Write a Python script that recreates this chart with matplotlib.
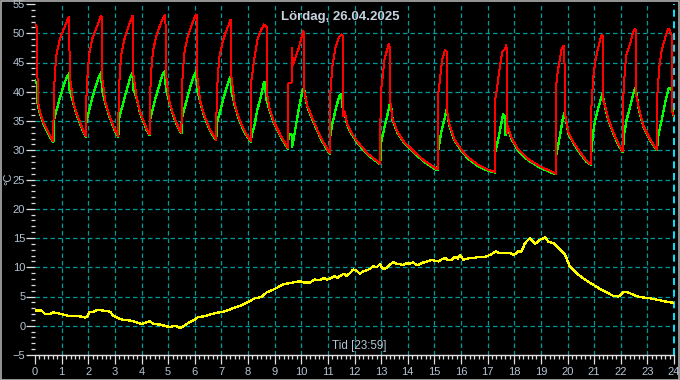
import matplotlib
matplotlib.use("Agg")
import matplotlib.pyplot as plt
from matplotlib.patches import Rectangle

# ---------------- data ----------------
title_text = "Lördag, 26.04.2025"
xlabel_text = "Tid [23:59]"
ylabel_text = "°C"
x_ticks = list(range(0, 25))
y_ticks = list(range(-5, 56, 5))

red_t = [0.00, 0.08, 0.09, 0.10, 0.19, 0.31, 0.44, 0.56, 0.69,
         0.70, 0.75, 0.81, 0.94, 1.06, 1.19, 1.26, 1.29, 1.30, 1.44, 1.57, 1.69, 1.81, 1.92,
         1.93, 1.98, 2.04, 2.16, 2.28, 2.40, 2.47, 2.50, 2.51, 2.64, 2.77, 2.89, 3.01, 3.13,
         3.14, 3.19, 3.25, 3.37, 3.48, 3.59, 3.65, 3.68, 3.69, 3.82, 3.95, 4.07, 4.19, 4.31,
         4.32, 4.37, 4.43, 4.55, 4.67, 4.79, 4.87, 4.90, 4.91, 5.03, 5.15, 5.27, 5.39, 5.50,
         5.51, 5.56, 5.62, 5.74, 5.85, 5.97, 6.04, 6.07, 6.08, 6.20, 6.33, 6.46, 6.58, 6.70, 6.81,
         6.82, 6.87, 6.93, 7.05, 7.16, 7.28, 7.34, 7.37, 7.38, 7.50, 7.63, 7.76, 7.88, 8.00, 8.12,
         8.13, 8.23, 8.35, 8.48, 8.60, 8.66, 8.72, 8.73, 8.80, 8.98, 9.23, 9.40, 9.51,
         9.52, 9.65, 9.66, 9.68, 9.79, 9.92, 10.02, 10.07, 10.09, 10.10, 10.23, 10.48, 10.73, 10.98, 11.08,
         11.09, 11.17, 11.29, 11.42, 11.51, 11.57, 11.58, 11.62, 11.73, 11.87, 12.12, 12.50, 12.97,
         12.98, 13.06, 13.12, 13.22, 13.28, 13.34, 13.35, 13.43, 13.62, 13.87, 14.25, 14.62, 15.06, 15.12,
         15.13, 15.22, 15.29, 15.40, 15.46, 15.47, 15.56, 15.75, 16.00, 16.26, 16.64, 17.01, 17.27,
         17.28, 17.36, 17.42, 17.48, 17.55, 17.64, 17.70, 17.72, 17.74, 17.75, 17.89, 18.14, 18.52, 19.02, 19.39, 19.56,
         19.57, 19.64, 19.71, 19.77, 19.84, 19.88, 19.90, 19.91, 20.03, 20.22, 20.47, 20.72, 20.88,
         20.89, 20.97, 21.03, 21.10, 21.16, 21.26, 21.31, 21.33, 21.34, 21.41, 21.53, 21.72, 21.91, 22.07,
         22.08, 22.16, 22.22, 22.35, 22.47, 22.54, 22.56, 22.57, 22.66, 22.85, 23.10, 23.35,
         23.36, 23.45, 23.54, 23.66, 23.76, 23.81, 23.91, 23.94, 24.00]
red_v = [51.6, 51.0, 44.0, 38.6, 36.5, 34.8, 33.6, 32.5, 31.5,
         38.9, 43.4, 46.5, 49.1, 50.5, 51.9, 52.7, 52.7, 42.8, 38.2, 36.2, 34.8, 33.4, 32.4,
         39.0, 43.5, 46.6, 49.2, 50.6, 52.0, 52.9, 52.9, 42.9, 38.3, 36.3, 34.8, 33.4, 32.4,
         39.0, 43.5, 46.6, 49.2, 50.7, 52.1, 52.9, 52.9, 43.0, 39.0, 36.5, 35.1, 33.7, 32.7,
         39.3, 43.8, 46.9, 49.5, 51.0, 52.4, 53.1, 53.1, 43.3, 38.7, 36.7, 35.2, 33.9, 33.0,
         39.5, 44.0, 47.0, 49.5, 51.0, 52.4, 53.1, 53.1, 43.2, 38.5, 36.4, 34.8, 33.5, 32.6, 31.8,
         38.5, 43.0, 46.0, 48.6, 50.1, 51.5, 52.3, 52.3, 42.5, 37.9, 35.9, 34.4, 33.2, 32.3, 31.5,
         42.0, 45.4, 48.8, 50.5, 51.5, 51.2, 51.0, 39.3, 37.2, 34.8, 32.5, 31.2, 30.3,
         41.4, 41.6, 47.5, 44.5, 46.0, 47.6, 49.5, 50.4, 50.3, 40.3, 37.6, 34.8, 32.2, 30.2, 29.5,
         39.7, 44.3, 47.7, 49.4, 49.8, 49.5, 35.8, 36.7, 34.5, 33.1, 31.4, 29.4, 27.7,
         39.7, 42.5, 45.4, 47.1, 48.2, 47.5, 38.0, 35.4, 33.1, 31.4, 29.7, 28.2, 26.9, 26.7,
         39.1, 42.5, 45.4, 47.2, 46.8, 36.9, 34.5, 31.9, 30.2, 28.8, 27.5, 26.7, 26.3,
         38.6, 40.8, 43.1, 44.8, 46.8, 47.2, 48.0, 47.0, 32.9, 34.2, 32.2, 30.2, 28.5, 27.1, 26.4, 26.0,
         40.8, 43.7, 45.4, 47.1, 47.9, 47.6, 40.0, 36.2, 33.1, 31.4, 29.7, 28.2, 27.6,
         36.9, 42.5, 44.8, 46.5, 47.7, 49.4, 49.7, 49.5, 38.6, 37.6, 35.4, 33.1, 31.1, 29.8,
         38.0, 44.0, 46.5, 48.2, 50.2, 50.8, 50.6, 39.7, 37.6, 34.2, 31.9, 30.1,
         38.6, 44.3, 47.1, 49.1, 50.6, 50.8, 49.7, 36.5, 35.9]

green_t = [0.00, 0.07, 0.09, 0.10, 0.19, 0.31, 0.44, 0.56, 0.69,
           0.70, 0.81, 0.94, 1.06, 1.19, 1.28, 1.30, 1.44, 1.57, 1.69, 1.81, 1.92,
           1.93, 2.04, 2.16, 2.28, 2.40, 2.49, 2.51, 2.64, 2.77, 2.89, 3.01, 3.13,
           3.14, 3.25, 3.37, 3.48, 3.59, 3.67, 3.69, 3.82, 3.95, 4.07, 4.19, 4.31,
           4.32, 4.43, 4.55, 4.67, 4.79, 4.89, 4.91, 5.03, 5.15, 5.27, 5.39, 5.50,
           5.51, 5.62, 5.74, 5.85, 5.97, 6.06, 6.08, 6.20, 6.33, 6.46, 6.58, 6.70, 6.81,
           6.82, 6.93, 7.05, 7.16, 7.28, 7.36, 7.38, 7.50, 7.63, 7.76, 7.88, 8.00, 8.12,
           8.13, 8.23, 8.35, 8.48, 8.60, 8.65, 8.67, 8.70, 8.80, 8.98, 9.23, 9.40, 9.51,
           9.52, 9.60, 9.65, 9.66, 9.70, 9.79, 9.92, 10.04, 10.10, 10.14, 10.23, 10.48, 10.73, 10.98, 11.08,
           11.09, 11.17, 11.29, 11.42, 11.49, 11.53, 11.58, 11.62, 11.73, 11.87, 12.12, 12.50, 12.97,
           12.98, 13.10, 13.22, 13.33, 13.37, 13.43, 13.62, 13.87, 14.25, 14.62, 15.06, 15.12,
           15.13, 15.25, 15.37, 15.46, 15.50, 15.56, 15.75, 16.00, 16.26, 16.64, 17.01, 17.27,
           17.28, 17.39, 17.49, 17.58, 17.64, 17.67, 17.70, 17.75, 17.89, 18.14, 18.52, 19.02, 19.39, 19.56,
           19.57, 19.71, 19.80, 19.87, 19.91, 20.03, 20.22, 20.47, 20.72, 20.88,
           20.89, 20.95, 21.03, 21.16, 21.31, 21.41, 21.53, 21.72, 21.91, 22.07,
           22.08, 22.13, 22.22, 22.35, 22.47, 22.56, 22.66, 22.85, 23.10, 23.35,
           23.36, 23.42, 23.54, 23.66, 23.81, 23.91, 23.94, 24.00]
green_v = [41.9, 41.4, 39.5, 37.7, 36.3, 34.6, 33.4, 32.3, 31.4,
           34.9, 36.9, 39.0, 40.8, 42.5, 43.1, 40.3, 38.0, 36.0, 34.6, 33.2, 32.3,
           34.9, 37.0, 39.1, 40.9, 42.6, 43.3, 40.4, 38.1, 36.1, 34.6, 33.2, 32.3,
           35.0, 37.0, 39.1, 40.9, 42.6, 43.3, 40.5, 38.8, 36.3, 34.9, 33.5, 32.6,
           35.2, 37.2, 39.3, 41.1, 42.9, 43.6, 40.7, 38.5, 36.5, 35.0, 33.7, 32.9,
           35.4, 37.3, 39.3, 41.1, 42.8, 43.5, 40.6, 38.3, 36.2, 34.6, 33.3, 32.4, 31.7,
           34.3, 36.3, 38.4, 40.2, 41.9, 42.7, 39.9, 37.7, 35.7, 34.2, 33.0, 32.1, 31.4,
           32.5, 34.0, 36.9, 39.1, 41.7, 41.5, 39.1, 38.5, 37.0, 34.6, 32.3, 31.0, 30.2,
           32.6, 32.8, 32.6, 30.6, 31.5, 34.0, 37.4, 40.0, 40.7, 39.5, 37.4, 34.6, 32.0, 30.0, 29.4,
           32.5, 34.6, 36.9, 39.2, 39.6, 38.5, 36.0, 36.5, 34.3, 32.9, 31.2, 29.2, 27.6,
           30.9, 33.4, 35.7, 38.0, 37.8, 35.2, 32.9, 31.2, 29.5, 28.0, 26.7, 26.6,
           29.5, 32.9, 35.2, 36.9, 36.0, 34.3, 31.7, 30.0, 28.6, 27.3, 26.5, 26.2,
           29.5, 31.7, 34.0, 36.1, 35.8, 32.6, 34.3, 34.0, 32.0, 30.0, 28.3, 26.9, 26.2, 25.9,
           28.9, 32.3, 34.8, 36.3, 36.0, 32.9, 31.2, 29.5, 28.0, 27.5,
           29.5, 32.5, 35.0, 37.3, 39.7, 37.4, 35.2, 32.9, 30.9, 29.7,
           30.0, 32.8, 35.2, 37.4, 39.7, 40.8, 37.4, 34.0, 31.7, 30.0,
           30.0, 32.8, 35.2, 38.0, 40.7, 40.3, 37.1, 35.7]

yellow_t = [0.00, 0.25, 0.38, 0.56, 0.69, 1.00, 1.25, 1.69, 1.88, 1.98, 2.04, 2.19, 2.32, 2.57,
            2.82, 2.94, 3.13, 3.32, 3.57, 3.82, 4.01, 4.19, 4.32, 4.44, 4.69, 4.95, 5.07, 5.26,
            5.45, 5.57, 5.76, 5.95, 6.13, 6.32, 6.57, 6.82, 7.07, 7.32, 7.70, 8.01, 8.26, 8.51,
            8.70, 9.01, 9.33, 9.58, 9.95, 10.10, 10.33, 10.50, 10.70, 10.85, 10.95, 11.08, 11.25,
            11.35, 11.46, 11.60, 11.70, 11.83, 11.95, 12.08, 12.20, 12.33, 12.45, 12.58, 12.70,
            12.83, 12.95, 13.08, 13.20, 13.33, 13.45, 13.58, 13.70, 13.83, 13.95, 14.08, 14.20,
            14.34, 14.45, 14.58, 14.75, 14.90, 15.00, 15.15, 15.30, 15.40, 15.52, 15.65, 15.78,
            15.88, 15.96, 16.09, 16.34, 16.50, 16.71, 16.90, 17.09, 17.31, 17.46, 17.65, 17.84,
            17.99, 18.15, 18.28, 18.40, 18.59, 18.78, 18.97, 19.15, 19.28, 19.47, 19.72, 19.91,
            20.09, 20.28, 20.47, 20.72, 20.97, 21.22, 21.47, 21.72, 21.91, 21.97, 22.10, 22.28,
            22.47, 22.72, 23.10, 23.41, 23.73, 24.00]
yellow_v = [2.6, 2.6, 2.0, 2.0, 2.3, 2.0, 1.7, 1.6, 1.4, 1.7, 2.3, 2.4, 2.7, 2.6,
            2.4, 1.7, 1.3, 1.0, 0.9, 0.6, 0.3, 0.6, 0.8, 0.3, 0.2, -0.1, -0.2, 0.0,
            -0.4, -0.1, 0.5, 0.9, 1.5, 1.6, 1.9, 2.2, 2.4, 2.8, 3.4, 4.1, 4.7, 4.9,
            5.7, 6.3, 7.1, 7.3, 7.6, 7.4, 7.4, 7.9, 7.8, 8.2, 7.9, 8.1, 8.5,
            8.2, 8.5, 8.9, 8.5, 9.0, 9.6, 9.4, 8.9, 9.3, 9.5, 9.7, 10.2,
            10.0, 10.5, 9.7, 9.9, 10.4, 10.9, 10.6, 10.5, 10.4, 10.7, 10.6, 10.8,
            10.4, 10.5, 10.8, 11.0, 11.3, 11.1, 11.0, 11.4, 11.6, 11.2, 11.3, 11.8,
            11.5, 12.1, 11.3, 11.6, 11.6, 11.8, 11.8, 12.1, 12.7, 12.4, 12.4, 12.4,
            12.1, 12.7, 12.7, 14.1, 15.0, 14.0, 14.7, 15.1, 14.4, 14.1, 13.1, 12.1,
            10.1, 9.3, 8.5, 7.7, 7.0, 6.3, 5.7, 5.1, 5.0, 5.1, 5.8, 5.7,
            5.3, 4.9, 4.7, 4.4, 4.1, 3.9]

# ---------------- styling ----------------
W, H, DPI = 680, 380, 100
label_col = "#b4c4d4"
tick_col = "#e0e0e0"
grid_col = "#009a9a"

fig = plt.figure(figsize=(W / DPI, H / DPI), dpi=DPI, facecolor="black")
ax = fig.add_axes([35 / W, 1 - 355 / H, (674 - 35) / W, (355 - 4) / H])
ax.set_facecolor("black")
ax.set_xlim(0, 24)
ax.set_ylim(-5, 55)

for s in ["top", "right", "left"]:
    ax.spines[s].set_visible(False)
ax.spines["bottom"].set_color(tick_col)
ax.spines["bottom"].set_linewidth(1.0)

ax.set_xticks(x_ticks)
ax.set_yticks(y_ticks)
ax.set_xticks([i / 6 for i in range(0, 24 * 6 + 1)], minor=True)
ax.set_yticks(list(range(-5, 56)), minor=True)
ax.tick_params(axis="both", which="major", colors=tick_col, labelcolor=label_col,
               labelsize=8, length=6.2, width=0.9, direction="out")
ax.tick_params(axis="both", which="minor", colors=tick_col, length=3.0, width=0.9,
               direction="out")
ax.tick_params(axis="x", pad=2.2)
ax.tick_params(axis="y", pad=0.8)
for lab in ax.get_xticklabels() + ax.get_yticklabels():
    lab.set_family(["Liberation Sans", "DejaVu Sans"])

# grid
dash = (0, (3.6, 2.4))
for h in x_ticks[1:-1]:
    ax.axvline(h, color=grid_col, lw=0.9, ls=dash, zorder=1)
for v in y_ticks[1:-1]:
    ax.axhline(v, color=grid_col, lw=0.9, ls=dash, zorder=1)
ax.axvline(24, color="#00e8ff", lw=1.4, ls=dash, zorder=1, clip_on=False)

# series
ax.plot(green_t, green_v, color="#00ff00", lw=0.9, zorder=3, antialiased=False)
ax.plot(red_t, red_v, color="#ff0000", lw=0.72, zorder=4, antialiased=False)
ax.plot(yellow_t, yellow_v, color="#ffff00", lw=0.9, zorder=4, antialiased=False)

# texts
ax.text(0.477, 0.963, title_text, transform=ax.transAxes, ha="center", va="center",
        color="#c8d2de", fontsize=9.5, fontweight="bold",
        family=["Liberation Sans", "DejaVu Sans"], zorder=5)
ax.text(0.507, 0.009, xlabel_text, transform=ax.transAxes, ha="center", va="bottom",
        color=label_col, fontsize=8.4, family=["Liberation Sans", "DejaVu Sans"], zorder=5)
fig.text(8.0 / W, 1 - 179 / H, ylabel_text, rotation=90, ha="center", va="center",
         color=label_col, fontsize=8.0, family=["Liberation Sans", "DejaVu Sans"])

# outer frame
fig.patches.append(Rectangle((0.5 / W, 0.5 / H), 1 - 1.5 / W, 1 - 1.5 / H,
                             transform=fig.transFigure, fill=False,
                             edgecolor="#b0b0b0", lw=1.2))

fig.savefig("out.png", dpi=DPI, facecolor="black")
